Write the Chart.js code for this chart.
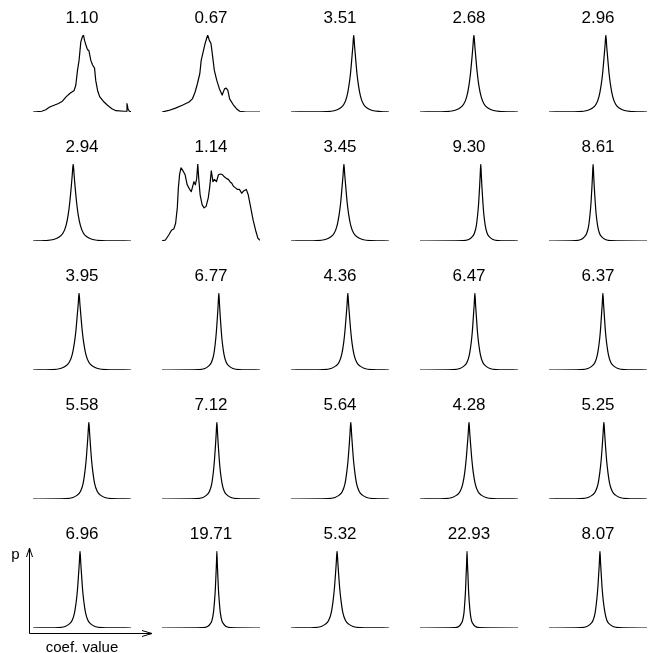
<!DOCTYPE html>
<html>
<head>
<meta charset="utf-8">
<script src="https://cdn.jsdelivr.net/npm/chart.js@4.4.1/dist/chart.umd.min.js"></script>
<style>
    html, body { margin: 0; padding: 0; background: #fff; }
    #grid { position: relative; width: 649px; height: 653px; overflow: hidden; }
    #grid canvas { position: absolute; }
</style>
</head>
<body>
<div id="grid"></div>
<script>
// ── Data (x in % of the panel's coef. range, y = normalised density) ─────────

const TITLES = [
    '1.10', '0.67', '3.51', '2.68', '2.96',
    '2.94', '1.14', '3.45', '9.30', '8.61',
    '3.95', '6.77', '4.36', '6.47', '6.37',
    '5.58', '7.12', '5.64', '4.28', '5.25',
    '6.96', '19.71', '5.32', '22.93', '8.07',
];

// irregular densities
const x_1_10 = [0, 8.9, 13, 17, 21.5, 26, 30, 34, 37.5, 42, 43.7, 45.4, 47, 48.8, 50.5, 51.5, 52.6, 54, 55.6, 57,
                59, 60.8, 62.8, 64, 65.9, 68, 71.7, 76, 80.5, 84.6, 93, 94.9, 95.9, 96.9, 98.3, 100];
const y_1_10 = [0, 0.01, 0.03, 0.065, 0.087, 0.11, 0.14, 0.2, 0.24, 0.28, 0.35, 0.54, 0.67, 0.91, 0.98, 1.0, 0.93, 0.87, 0.81, 0.8,
                0.67, 0.61, 0.57, 0.41, 0.28, 0.2, 0.14, 0.087, 0.043, 0.017, 0.01, 0.01, 0.11, 0.043, 0.01, 0.005];

const x_0_67 = [0, 6.9, 13.8, 20.7, 27.6, 31, 33.8, 36.2, 38.6, 40, 42, 44, 46.6, 48.3, 50, 51.7, 53.4, 55.9, 58.6, 61.4,
                63.8, 65.5, 67.2, 69, 72.4, 75.9, 79.3, 86, 100];
const y_0_67 = [0, 0.02, 0.05, 0.087, 0.13, 0.17, 0.26, 0.37, 0.5, 0.67, 0.78, 0.89, 1.0, 0.93, 0.89, 0.72, 0.54, 0.41, 0.3, 0.22,
                0.3, 0.31, 0.28, 0.17, 0.1, 0.043, 0.01, 0, 0];

const x_1_14 = [0, 3.5, 6.9, 9.7, 12.2, 13.9, 15.6, 16.7, 18, 19.4, 21.5, 23.6, 25.7, 27.8, 29.9, 31.3, 32.6, 34, 35.4, 36.5,
                37.5, 38.9, 41, 43, 45, 47.2, 48.6, 50.3, 52, 53.5, 55.6, 57.6, 59.7, 61.8, 63.9, 66, 67.7, 69.4, 71.2, 72.9,
                75, 77, 79, 81.3, 83.3, 86, 88, 90.3, 93, 95.5, 97.9, 100];
const y_1_14 = [0, 0.013, 0.078, 0.14, 0.16, 0.23, 0.43, 0.69, 0.87, 0.95, 0.91, 0.86, 0.73, 0.68, 0.64, 0.71, 0.77, 0.73, 0.81, 1.0,
                0.81, 0.6, 0.47, 0.43, 0.45, 0.56, 0.69, 0.91, 0.77, 0.8, 0.77, 0.86, 0.87, 0.86, 0.83, 0.81, 0.8, 0.77, 0.75, 0.71,
                0.69, 0.67, 0.67, 0.62, 0.65, 0.67, 0.6, 0.45, 0.27, 0.14, 0.035, 0.01];

// sharp peaks: density levels, and the x where each curve passes them
const PEAK_LEVELS = [0, 0.005, 0.02, 0.05, 0.1, 0.2, 0.35, 0.5, 0.7, 0.85, 1, 0.85, 0.7, 0.5, 0.35, 0.2, 0.1, 0.05, 0.02, 0.005, 0];

const x_3_51  = [0, 36, 45, 50, 54, 57, 59.2, 60.7, 62.1, 63.1, 64, 64.9, 65.9, 67.3, 68.8, 71, 74, 78, 83, 92, 100];
const x_2_68  = [0, 25.6, 35, 40.3, 44.5, 47.7, 50, 51.5, 53, 54, 55, 56, 57, 58.5, 60, 62.4, 65.5, 69.7, 75, 84.4, 100];
const x_2_96  = [0, 30, 39, 44, 48, 51, 53.2, 54.7, 56.1, 57.1, 58, 58.9, 59.9, 61.3, 62.8, 65, 68, 72, 77, 86, 100];
const x_2_94  = [0, 11.6, 21, 26.3, 30.5, 33.7, 36, 37.5, 39, 40, 41, 42, 43, 44.5, 46, 48.4, 51.5, 55.7, 61, 70.4, 100];
const x_3_45  = [0, 26, 35, 40, 44, 47, 49.2, 50.7, 52.1, 53.1, 54, 54.9, 55.9, 57.3, 58.8, 61, 64, 68, 73, 82, 100];
const x_9_30  = [0, 43.8, 49.7, 52.9, 55.5, 57.5, 58.9, 59.9, 60.8, 61.4, 62, 62.6, 63.2, 64.2, 65.1, 66.6, 68.5, 71.1, 74.4, 80.2, 100];
const x_8_61  = [0, 26.8, 32.7, 35.9, 38.5, 40.5, 41.9, 42.9, 43.8, 44.4, 45, 45.6, 46.2, 47.2, 48.1, 49.6, 51.5, 54.1, 57.4, 63.2, 100];
const x_3_95  = [0, 19, 28, 33, 37, 40, 42.2, 43.7, 45.1, 46.1, 47, 47.9, 48.9, 50.3, 51.8, 54, 57, 61, 66, 75, 100];
const x_6_77  = [0, 37, 43.8, 47.5, 50.5, 52.8, 54.4, 55.5, 56.6, 57.3, 58, 58.7, 59.4, 60.5, 61.6, 63.3, 65.5, 68.5, 72.3, 79, 100];
const x_4_36  = [0, 32.8, 40.9, 45.4, 49, 51.7, 53.7, 55, 56.3, 57.2, 58, 58.8, 59.7, 61, 62.3, 64.3, 67, 70.6, 75.1, 83.2, 100];
const x_6_47  = [0, 33.6, 40.8, 44.8, 48, 50.4, 52.2, 53.4, 54.5, 55.3, 56, 56.7, 57.5, 58.6, 59.8, 61.6, 64, 67.2, 71.2, 78.4, 100];
const x_6_37  = [0, 32.6, 39.8, 43.8, 47, 49.4, 51.2, 52.4, 53.5, 54.3, 55, 55.7, 56.5, 57.6, 58.8, 60.6, 63, 66.2, 70.2, 77.4, 100];
const x_5_58  = [0, 33.2, 40.9, 45.1, 48.5, 51.1, 52.9, 54.2, 55.4, 56.2, 57, 57.8, 58.6, 59.8, 61.1, 62.9, 65.5, 68.9, 73.2, 80.8, 100];
const x_7_12  = [0, 35, 41.8, 45.5, 48.5, 50.8, 52.4, 53.5, 54.6, 55.3, 56, 56.7, 57.4, 58.5, 59.6, 61.3, 63.5, 66.5, 70.3, 77, 100];
const x_5_64  = [0, 37.2, 44.9, 49.1, 52.5, 55.1, 56.9, 58.2, 59.4, 60.2, 61, 61.8, 62.6, 63.8, 65.1, 66.9, 69.5, 72.9, 77.2, 84.8, 100];
const x_4_28  = [0, 24.8, 32.9, 37.4, 41, 43.7, 45.7, 47, 48.3, 49.2, 50, 50.8, 51.7, 53, 54.3, 56.3, 59, 62.6, 67.1, 75.2, 100];
const x_5_25  = [0, 32.2, 39.9, 44.1, 47.5, 50.1, 51.9, 53.2, 54.4, 55.2, 56, 56.8, 57.6, 58.8, 60.1, 61.9, 64.5, 67.9, 72.2, 79.8, 100];
const x_6_96  = [0, 25.6, 32.8, 36.8, 40, 42.4, 44.2, 45.4, 46.5, 47.3, 48, 48.7, 49.5, 50.6, 51.8, 53.6, 56, 59.2, 63.2, 70.4, 100];
const x_19_71 = [0, 42, 46.5, 49, 51, 52.5, 53.6, 54.4, 55.1, 55.6, 56, 56.4, 56.9, 57.6, 58.4, 59.5, 61, 63, 65.5, 70, 100];
const x_5_32  = [0, 23.2, 30.9, 35.1, 38.5, 41.1, 42.9, 44.2, 45.4, 46.2, 47, 47.8, 48.6, 49.8, 51.1, 52.9, 55.5, 58.9, 63.2, 70.8, 100];
const x_22_93 = [0, 35.4, 39.5, 41.7, 43.5, 44.9, 45.8, 46.5, 47.1, 47.6, 48, 48.4, 48.9, 49.5, 50.2, 51.2, 52.5, 54.3, 56.6, 60.6, 100];
const x_8_07  = [0, 32.4, 38.7, 42.2, 45, 47.1, 48.6, 49.7, 50.7, 51.4, 52, 52.6, 53.3, 54.3, 55.4, 57.1, 59, 61.8, 65.3, 71.6, 100];

const PANEL_X = [
    x_1_10, x_0_67, x_3_51, x_2_68, x_2_96,
    x_2_94, x_1_14, x_3_45, x_9_30, x_8_61,
    x_3_95, x_6_77, x_4_36, x_6_47, x_6_37,
    x_5_58, x_7_12, x_5_64, x_4_28, x_5_25,
    x_6_96, x_19_71, x_5_32, x_22_93, x_8_07,
];
const IRREGULAR_Y = new Map([[x_1_10, y_1_10], [x_0_67, y_0_67], [x_1_14, y_1_14]]);

// ── Layout ─────────────────────────────────────────────────────────────────

const FONT      = '"Liberation Sans", Arial, Helvetica, sans-serif';
const COL_LEFT  = 33, STEP = 129;
const PLOT_W    = 98, PLOT_H = 77, TITLE_H = 35;

// bottom-left panel gets the p / coef. value axes
const arrowAxes = {
    id: 'arrowAxes',
    afterDraw(chart) {
        const { ctx, chartArea: a } = chart;
        const ox = Math.round(a.left - 4) + 0.5, oy = Math.round(a.bottom + 5) + 0.5;
        const xEnd = a.right + 21, yEnd = a.top - 3;
        ctx.save();
        ctx.strokeStyle = '#000';
        ctx.lineWidth   = 1;
        ctx.beginPath();
        ctx.moveTo(ox, yEnd);          ctx.lineTo(ox, oy);     ctx.lineTo(xEnd, oy);
        ctx.moveTo(ox - 3, yEnd + 9);  ctx.lineTo(ox, yEnd);   ctx.lineTo(ox + 3, yEnd + 9);
        ctx.moveTo(xEnd - 10, oy - 3); ctx.lineTo(xEnd, oy);   ctx.lineTo(xEnd - 10, oy + 3);
        ctx.stroke();
        ctx.fillStyle    = '#000';
        ctx.font         = `15px ${FONT}`;
        ctx.textAlign    = 'center';
        ctx.textBaseline = 'middle';
        ctx.fillText('p', ox - 14, a.top + 4);
        ctx.fillText('coef. value', (a.left + a.right) / 2, oy + 14);
        ctx.restore();
    },
};

function makePanel(i) {
    const row = Math.floor(i / 5), col = i % 5;
    const withAxes = row === 4 && col === 0;
    const pad  = withAxes ? { left: COL_LEFT, right: 30, top: 0, bottom: 25 }
                          : { left: 2, right: 2, top: 0, bottom: 2 };
    const left = COL_LEFT + col * STEP - pad.left;
    const top  = row * STEP;

    const canvas = document.createElement('canvas');
    canvas.width  = PLOT_W + pad.left + pad.right;
    canvas.height = TITLE_H + PLOT_H + pad.bottom;
    canvas.style.left = `${left}px`;
    canvas.style.top  = `${top}px`;
    document.getElementById('grid').appendChild(canvas);

    const xs = PANEL_X[i];
    const irregular = IRREGULAR_Y.has(xs);
    const ys = irregular ? IRREGULAR_Y.get(xs) : PEAK_LEVELS;

    new Chart(canvas.getContext('2d'), {
        type: 'line',
        data: {
            datasets: [{
                data: xs.map((x, k) => ({ x, y: ys[k] })),
                borderColor: '#000',
                borderWidth: 1.2,
                borderJoinStyle: 'round',
                pointRadius: 0,
                tension: 0,
                cubicInterpolationMode: irregular ? 'default' : 'monotone',
                fill: false,
            }],
        },
        options: {
            responsive: false,
            animation: false,
            events: [],
            layout: { padding: pad },
            plugins: {
                legend: { display: false },
                tooltip: { enabled: false },
                title: {
                    display: true,
                    text: TITLES[i],
                    color: '#000',
                    font: { family: FONT, size: 17, weight: 'normal' },
                    padding: { top: 8, bottom: 6.6 },
                },
            },
            scales: {
                x: { type: 'linear', min: 0, max: 100, display: false },
                y: { min: 0, max: 1, display: false },
            },
        },
        plugins: withAxes ? [arrowAxes] : [],
    });
}

document.addEventListener('DOMContentLoaded', () => {
    for (let i = 0; i < TITLES.length; i++) makePanel(i);
});
</script>
</body>
</html>
